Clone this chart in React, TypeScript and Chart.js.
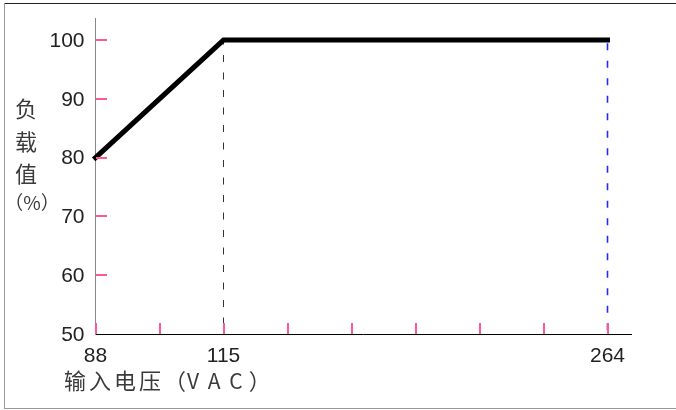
import React, { useEffect, useRef } from 'react';
import { Chart, registerables } from 'chart.js';

Chart.register(...registerables);

// Evenly spaced voltage positions along the x axis (index -> label)
const xTickLabels = ['88', '', '115', '', '', '', '', '', '264'];
// Derating curve: positions on the x axis and load values (%)
const curveX = [0, 2, 8]; // 88 VAC, 115 VAC, 264 VAC
const curveY = [80, 100, 100];
const yTickValues = [50, 60, 70, 80, 90, 100];
// Reference markers (vertical dashed lines)
const marker115X = [2, 2];
const marker264X = [8, 8];
const markerY = [100, 50];
const yTitleChars = ['负', '载', '值'];
const yTitleUnit = '（%）';
const xTitleCjk = '输入电压（';
const xTitleUnit = 'VAC';
const xTitleEnd = '）';

const TICK_COLOR = '#ff5a8a';
const LABEL_FONT = '"Liberation Sans", "DejaVu Sans", sans-serif';
const CJK_FONT = '"Noto Sans CJK SC", sans-serif';

const decorPlugin = {
  id: 'decor',
  afterDraw(chart: any) {
    const { ctx } = chart;
    const xs = chart.scales.x;
    const ys = chart.scales.y;
    ctx.save();
    // frame
    ctx.lineWidth = 1;
    ctx.strokeStyle = '#222';
    ctx.beginPath();
    ctx.moveTo(4, 3.5);
    ctx.lineTo(676, 3.5);
    ctx.stroke();
    ctx.strokeStyle = '#999';
    ctx.beginPath();
    ctx.moveTo(4.5, 3);
    ctx.lineTo(4.5, 409);
    ctx.moveTo(4, 408.5);
    ctx.lineTo(676, 408.5);
    ctx.stroke();

    // inward tick marks
    ctx.strokeStyle = TICK_COLOR;
    ctx.lineWidth = 2;
    const axisY = Math.floor(ys.getPixelForValue(ys.min));
    const axisX = Math.floor(xs.getPixelForValue(xs.min)) + 1;
    ctx.beginPath();
    yTickValues.forEach((v) => {
      if (v === ys.min) return;
      const py = Math.round(ys.getPixelForValue(v));
      ctx.moveTo(axisX, py);
      ctx.lineTo(axisX + 11, py);
    });
    xTickLabels.forEach((_, i) => {
      const px = Math.floor(xs.getPixelForValue(i)) + 1;
      ctx.moveTo(px, axisY);
      ctx.lineTo(px, axisY - 11);
    });
    ctx.stroke();

    // titles
    ctx.fillStyle = '#3a3a3a';
    ctx.textAlign = 'center';
    ctx.textBaseline = 'middle';
    ctx.font = `22px ${CJK_FONT}`;
    const yPos = [109, 142, 174];
    yTitleChars.forEach((c, i) => ctx.fillText(c, 26, yPos[i]));
    ctx.font = `19px ${CJK_FONT}`;
    ctx.fillText(yTitleUnit, 32, 203);

    ctx.textAlign = 'left';
    ctx.font = `22px ${CJK_FONT}`;
    let x = 64;
    (ctx as any).letterSpacing = '3px';
    ctx.fillText(xTitleCjk, x, 381);
    x += ctx.measureText(xTitleCjk).width - 2;
    (ctx as any).letterSpacing = '9px';
    ctx.font = `21px ${CJK_FONT}`;
    ctx.fillText(xTitleUnit, x, 381);
    x += ctx.measureText(xTitleUnit).width - 3;
    (ctx as any).letterSpacing = '0px';
    ctx.font = `22px ${CJK_FONT}`;
    ctx.fillText(xTitleEnd, x, 381);
    ctx.restore();
  },
};

export default function App() {
  const ref = useRef<HTMLCanvasElement | null>(null);
  useEffect(() => {
    document.body.style.margin = '0';
    const canvas = ref.current!;
    const chart = new Chart(canvas, {
      type: 'line',
      data: {
        datasets: [
          {
            data: curveX.map((x, i) => ({ x, y: curveY[i] })),
            borderColor: '#000',
            borderWidth: 5,
            borderCapStyle: 'square',
            borderJoinStyle: 'miter',
            pointRadius: 0,
            clip: false,
          } as any,
          {
            data: marker115X.map((x, i) => ({ x, y: markerY[i] })),
            borderColor: '#333',
            borderWidth: 1,
            borderDash: [7, 10.5],
            borderDashOffset: 2.5,
            pointRadius: 0,
          },
          {
            data: marker264X.map((x, i) => ({ x, y: markerY[i] })),
            borderColor: '#1a2cff',
            borderWidth: 1.6,
            borderDash: [7, 10.5],
            borderDashOffset: 14.3,
            pointRadius: 0,
          },
        ],
      },
      options: {
        animation: false,
        responsive: false,
        events: [],
        layout: { padding: { left: 0.5, top: 18, right: 44.5, bottom: 0 } },
        plugins: { legend: { display: false }, tooltip: { enabled: false } },
        scales: {
          x: {
            type: 'linear',
            min: 0,
            max: 8.375,
            afterBuildTicks: (s: any) => {
              s.ticks = xTickLabels.map((_, i) => ({ value: i }));
            },
            afterFit: (s: any) => {
              s.height = 76;
            },
            grid: { display: false },
            border: { display: true, color: '#000', width: 1 },
            ticks: {
              autoSkip: false,
              maxRotation: 0,
              padding: 2,
              color: '#222',
              font: { family: LABEL_FONT, size: 21 },
              callback: (v: any) => xTickLabels[v] ?? '',
            },
          },
          y: {
            type: 'linear',
            min: 50,
            max: 103.75,
            afterBuildTicks: (s: any) => {
              s.ticks = yTickValues.map((value) => ({ value }));
            },
            afterFit: (s: any) => {
              s.width = 95;
            },
            grid: { display: false },
            border: { display: true, color: '#888', width: 1 },
            ticks: {
              padding: 3,
              labelOffset: 1,
              color: '#222',
              font: { family: LABEL_FONT, size: 21 },
            },
          },
        },
      },
      plugins: [decorPlugin],
    });
    return () => chart.destroy();
  }, []);
  return (
    <div style={{ position: 'relative', width: 676, height: 410, background: '#fff' }}>
      <canvas ref={ref} width={676} height={410} style={{ display: 'block' }} />
    </div>
  );
}
